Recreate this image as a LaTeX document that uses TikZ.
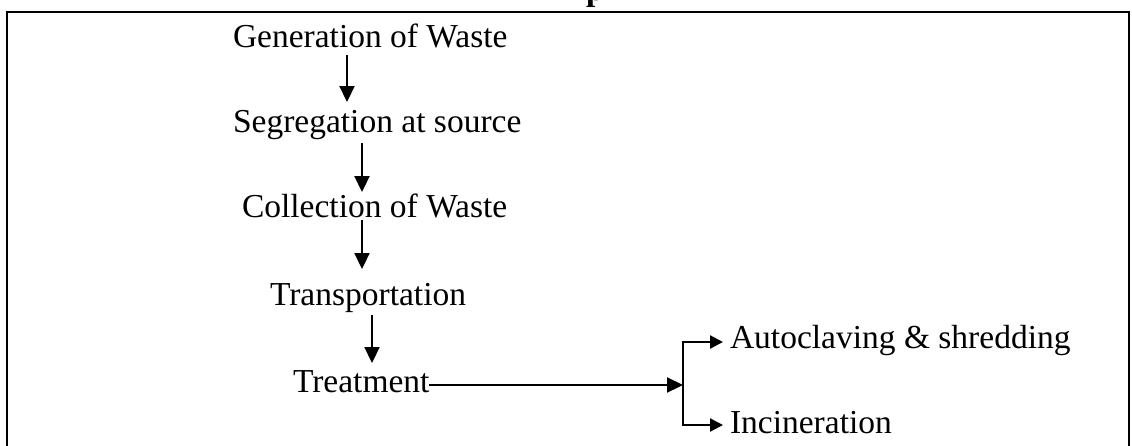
\documentclass[tikz,border=0pt]{standalone}
\usepackage{fontspec}
\setmainfont{Liberation Serif}
\usetikzlibrary{arrows.meta}
\begin{document}
\begin{tikzpicture}[x=1pt,y=-1pt,
  lbl/.style={anchor=base west,inner sep=0pt,outer sep=0pt,
    text height=23pt,text depth=0pt,font=\fontsize{33.5}{40}\selectfont},
  flow/.style={line width=2.2pt,-{Triangle[length=16pt,width=15pt]}},
  branch/.style={line width=2.2pt,-{Triangle[length=13pt,width=13pt]}},
  plain/.style={line width=2.2pt},
  frame/.style={line width=2.8pt}]
\useasboundingbox (0,0) rectangle (1132,445);

% frame around the chart, open at the bottom
\draw[frame] (7,447) -- (7,12) -- (1129,12) -- (1129,447);

% tail of the bold heading above the frame
\node[anchor=base west,inner sep=0pt,font=\fontsize{33}{40}\selectfont\bfseries] (head) at (586,0) {p};

% steps of the process
\node[lbl] (gen) at (233,47) {Generation of Waste};
\node[lbl] (seg) at (233,132) {Segregation at source};
\node[lbl] (col) at (242,217) {Collection of Waste};
\node[lbl] (tra) at (270,305) {Transportation};
\node[lbl] (trt) at (293,392) {Treatment};
\node[lbl] (aut) at (730,348) {Autoclaving \& shredding};
\node[lbl] (inc) at (730,433) {Incineration};

% vertical flow
\draw[flow,shorten <=8pt,shorten >=7pt] (gen.base -| 347,0) -- (seg.north -| 347,0);
\draw[flow,shorten <=11pt,shorten >=2pt] (seg.base -| 362,0) -- (col.north -| 362,0);
\draw[flow,shorten <=3pt,shorten >=13pt] (col.base -| 362,0) -- (tra.north -| 362,0);
\draw[flow,shorten <=10pt,shorten >=6pt] (tra.base -| 372,0) -- (trt.north -| 372,0);

% split into the two treatment options
\coordinate (split) at (683,385);
\coordinate (bt) at (683,342);
\coordinate (bb) at (683,425);
\draw[flow] (trt.east |- split) -- (split);
\draw[plain,line cap=rect] (bt) -- (bb);
\draw[branch,shorten >=7pt] (bt) -- (bt -| aut.west);
\draw[branch,shorten >=7pt] (bb) -- (bb -| inc.west);
\end{tikzpicture}
\end{document}
